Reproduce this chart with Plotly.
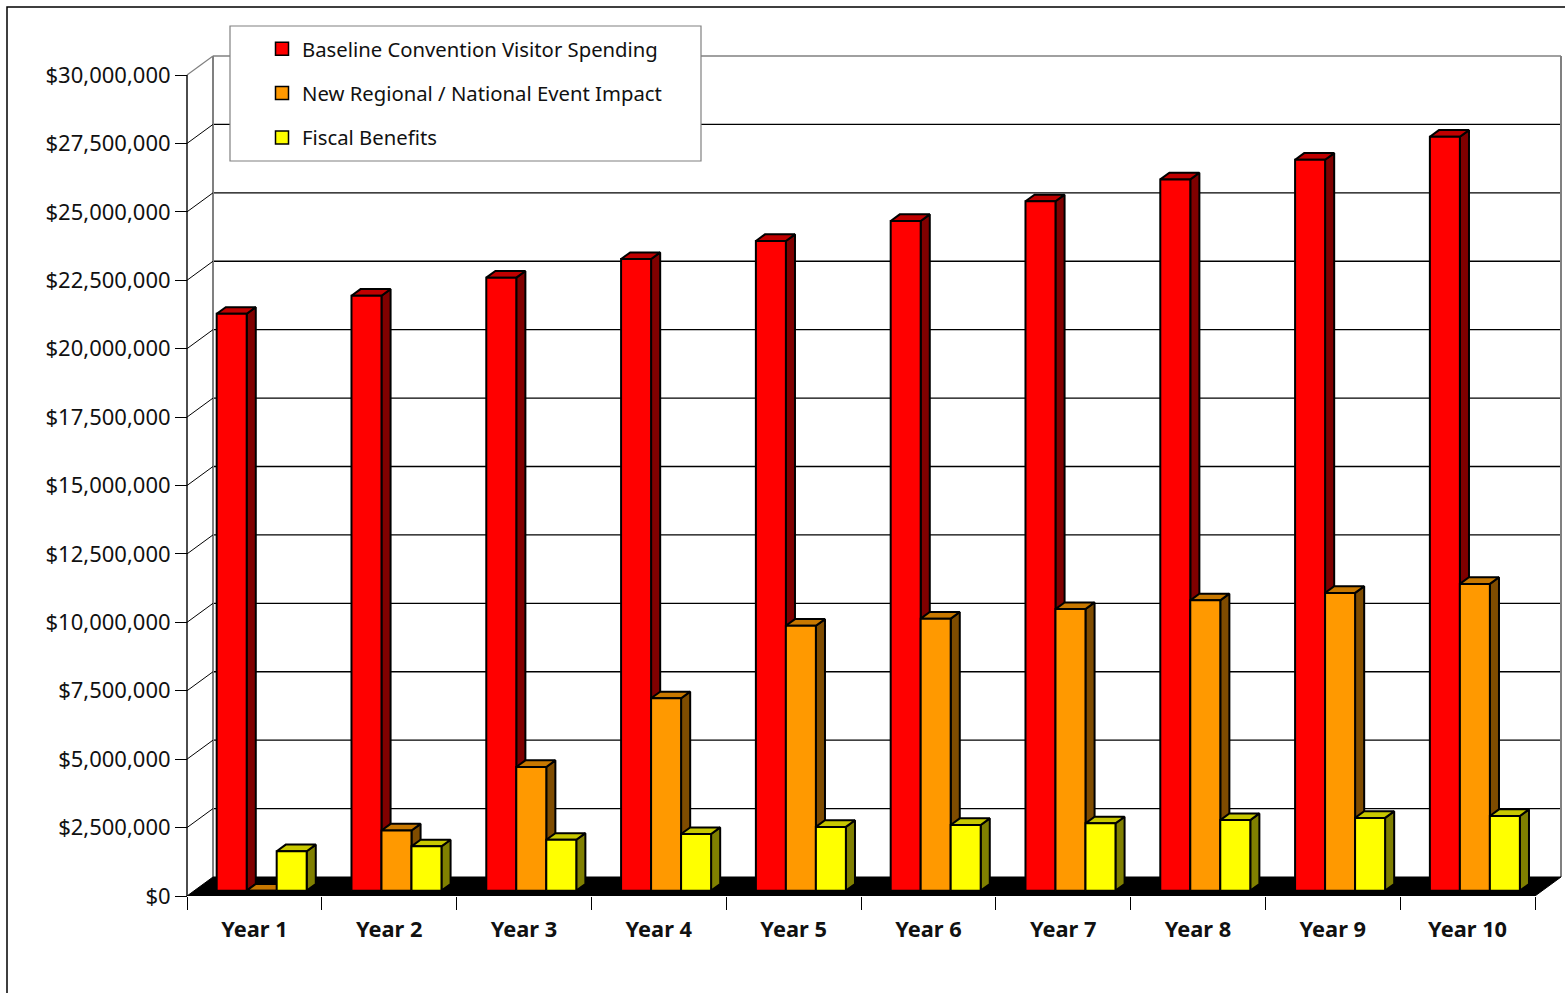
import plotly.graph_objects as go

# ---------------- data ----------------
years = [f"Year {i}" for i in range(1, 11)]
baseline = [21.08e6, 21.74e6, 22.40e6, 23.08e6, 23.74e6, 24.47e6, 25.19e6, 25.99e6, 26.71e6, 27.55e6]
regional = [0.0, 2.20e6, 4.52e6, 7.03e6, 9.68e6, 9.94e6, 10.29e6, 10.61e6, 10.88e6, 11.21e6]
fiscal = [1.44e6, 1.62e6, 1.86e6, 2.07e6, 2.33e6, 2.40e6, 2.46e6, 2.58e6, 2.66e6, 2.73e6]
series_names = ["Baseline Convention Visitor Spending",
                "New Regional / National Event Impact",
                "Fiscal Benefits"]
y_ticks = [i * 2_500_000 for i in range(13)]
y_tick_labels = [f"${v:,}" for v in y_ticks]

# ---------------- layout constants ----------------
FIG_W, FIG_H = 1565, 993
M_L, M_R, M_T, M_B = 180, 0, 40, 97
PLOT_W = FIG_W - M_L - M_R
PLOT_H = FIG_H - M_T - M_B
AXIS_PX = 187          # front value axis position (px)
CAT_PX = 134.8         # category width (px)
ZERO_PX = FIG_H - M_B  # pixel row of $0
TOP_TICK_PX = 75       # pixel row of top tick
PX_PER_D = (ZERO_PX - TOP_TICK_PX) / y_ticks[-1]

x_min = -0.5 - (AXIS_PX - M_L) / CAT_PX
x_max = -0.5 + (FIG_W - M_R - AXIS_PX) / CAT_PX
y_max = PLOT_H / PX_PER_D

DX = 26 / CAT_PX       # full depth of the box, x units
DY = 19 / PX_PER_D     # full depth of the box, value units
F0 = 0.28              # depth fraction of bar front
BD = 0.35              # bar depth fraction
BW = 30 / CAT_PX       # bar width
N = len(years)

colors = [
    dict(front="#FF0000", top="#C00000", side="#800000"),
    dict(front="#FF9900", top="#C87800", side="#7F4C00"),
    dict(front="#FFFF00", top="#C8C800", side="#808000"),
]
values = [baseline, regional, fiscal]

fig = go.Figure()


def segs(pairs_list):
    xs, ys = [], []
    for pts in pairs_list:
        for (a, b) in pts:
            xs.append(a)
            ys.append(b)
        xs.append(None)
        ys.append(None)
    return xs, ys


def add_lines(pairs_list, color, width):
    xs, ys = segs(pairs_list)
    fig.add_trace(go.Scatter(x=xs, y=ys, mode="lines", line=dict(color=color, width=width),
                             hoverinfo="skip", showlegend=False))


def add_polys(pairs_list, fill, lw=2.0):
    xs, ys = segs(pairs_list)
    fig.add_trace(go.Scatter(x=xs, y=ys, mode="lines", fill="toself", fillcolor=fill,
                             line=dict(color="black", width=lw),
                             hoverinfo="skip", showlegend=False))


# back wall gridlines
bx0, bx1 = -0.5 + DX, N - 0.5 + DX
add_lines([[(bx0, v + DY), (bx1, v + DY)] for v in y_ticks[1:-1]], "black", 1.3)
add_lines([[(bx0, y_ticks[-1] + DY), (bx1, y_ticks[-1] + DY)]], "#808080", 1.6)
# wall edges
add_lines([[(bx0, DY), (bx0, y_ticks[-1] + DY)],
           [(bx1, DY), (bx1, y_ticks[-1] + DY)]], "#808080", 2)
# left wall diagonals
add_lines([[(-0.5, v), (bx0, v + DY)] for v in y_ticks[:-1]], "black", 1)
add_lines([[(-0.5, y_ticks[-1]), (bx0, y_ticks[-1] + DY)]], "#808080", 1.2)

# floor
add_polys([[(-0.5, 0), (N - 0.5, 0), (N - 0.5 + DX, DY), (-0.5 + DX, DY)]], "black", 1)

# bars
yb = F0 * DY
ddx, ddy = BD * DX, BD * DY
for k, (vals, col) in enumerate(zip(values, colors)):
    sides, tops, fronts = [], [], []
    for i, v in enumerate(vals):
        xl = i + (k - 1.5) * BW + F0 * DX
        xr = xl + BW
        yt = yb + v
        fronts.append([(xl, yb), (xr, yb), (xr, yt), (xl, yt), (xl, yb)])
        tops.append([(xl, yt), (xr, yt), (xr + ddx, yt + ddy), (xl + ddx, yt + ddy), (xl, yt)])
        sides.append([(xr, yb), (xr + ddx, yb + ddy), (xr + ddx, yt + ddy), (xr, yt), (xr, yb)])
    add_polys(sides, col["side"])
    add_polys(tops, col["top"])
    add_polys(fronts, col["front"])

# front value axis line
add_lines([[(-0.5, 0), (-0.5, y_ticks[-1])]], "black", 1.4)

# legend entries
for name, col in zip(series_names, colors):
    fig.add_trace(go.Scatter(x=[None], y=[None], mode="markers", name=name, legendgroup=name,
                             marker=dict(symbol="square", size=13, color=col["front"],
                                         line=dict(color="black", width=1.5))))


def px_to_paper_x(px):
    return (px - M_L) / PLOT_W


def px_to_paper_y(py):
    return (ZERO_PX - py) / PLOT_H


fig.update_layout(
    width=FIG_W, height=FIG_H,
    margin=dict(l=M_L, r=M_R, t=M_T, b=M_B, pad=0),
    paper_bgcolor="white", plot_bgcolor="white",
    font=dict(family="Noto Sans, Open Sans, sans-serif", color="#111111"),
    xaxis=dict(range=[x_min, x_max], showgrid=False, zeroline=False, showline=False,
               tickvals=list(range(N)), ticktext=years,
               ticks="outside", ticklen=14, tickcolor="rgba(0,0,0,0)",
               tickfont=dict(size=21.8, family="Noto Sans", color="#111111", weight="bold"),
               minor=dict(tickvals=[i - 0.5 for i in range(N + 1)], ticks="outside",
                          ticklen=13, tickcolor="black", tickwidth=1.2, showgrid=False),
               fixedrange=True),
    yaxis=dict(range=[0, y_max], showgrid=False, zeroline=False, showline=False,
               anchor="free", position=px_to_paper_x(AXIS_PX),
               tickvals=y_ticks, ticktext=y_tick_labels,
               ticks="outside", ticklen=12, tickcolor="black", tickwidth=1.2,
               tickfont=dict(size=22, family="Noto Sans", color="#111111"),
               fixedrange=True),
    legend=dict(x=px_to_paper_x(262), y=px_to_paper_y(29), xanchor="left", yanchor="top",
                bgcolor="rgba(0,0,0,0)", borderwidth=0, traceorder="grouped",
                tracegroupgap=15, font=dict(size=20.3, family="Noto Sans", color="#111111"),
                itemclick=False, itemdoubleclick=False),
    shapes=[
        dict(type="rect", xref="paper", yref="paper",
             x0=px_to_paper_x(230), x1=px_to_paper_x(701),
             y0=px_to_paper_y(161), y1=px_to_paper_y(26),
             fillcolor="white", line=dict(color="#808080", width=1.2)),
        dict(type="rect", xref="paper", yref="paper",
             x0=px_to_paper_x(7), x1=px_to_paper_x(1700),
             y0=px_to_paper_y(1100), y1=px_to_paper_y(7),
             fillcolor="rgba(0,0,0,0)", line=dict(color="black", width=1.5)),
    ],
)

fig.write_html("out.html")
